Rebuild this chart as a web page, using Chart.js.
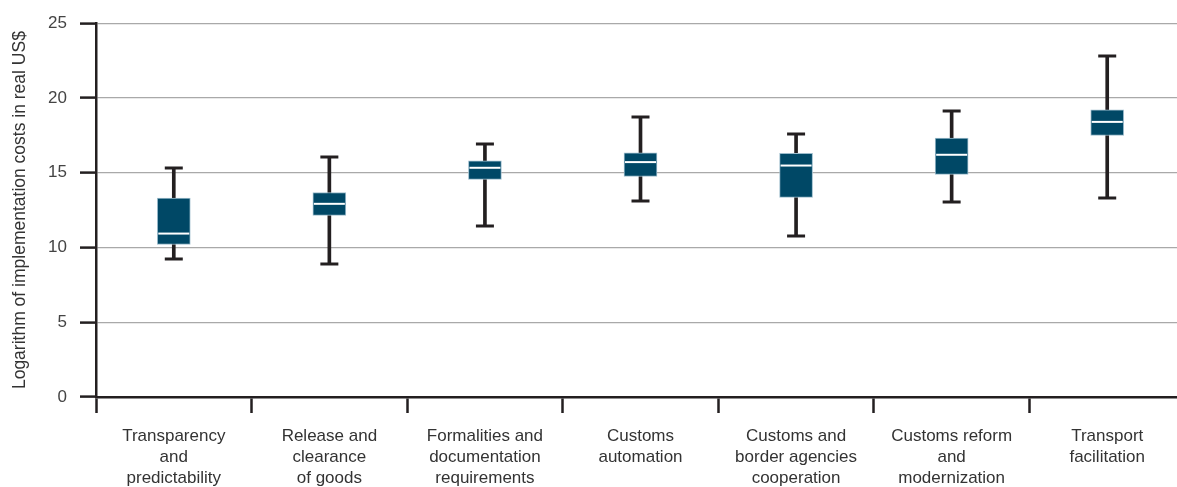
<!DOCTYPE html>
<html>
<head>
<meta charset="utf-8">
<script src="https://cdn.jsdelivr.net/npm/chart.js@4/dist/chart.umd.min.js"></script>
<style>
  html, body { margin: 0; padding: 0; background: #fff; overflow: hidden; }
  canvas { display: block; }
</style>
</head>
<body>
<canvas id="chart" width="1185" height="487"></canvas>
<script>
// Trade facilitation measures (one box per group)
const categories = [
  ["Transparency", "and", "predictability"],
  ["Release and", "clearance", "of goods"],
  ["Formalities and", "documentation", "requirements"],
  ["Customs", "automation"],
  ["Customs and", "border agencies", "cooperation"],
  ["Customs reform", "and", "modernization"],
  ["Transport", "facilitation"]
];

// Box-plot statistics (log of implementation costs, real US$)
const whiskerLow  = [9.22, 8.87, 11.41, 13.08, 10.74, 13.01, 13.28];
const quartile1   = [10.20, 12.15, 14.55, 14.75, 13.35, 14.89, 17.49];
const medians     = [10.93, 12.92, 15.33, 15.71, 15.48, 16.20, 18.40];
const quartile3   = [13.30, 13.68, 15.80, 16.33, 16.29, 17.31, 19.20];
const whiskerHigh = [15.30, 16.04, 16.90, 18.72, 17.58, 19.16, 22.79];

const yTicks = [0, 5, 10, 15, 20, 25];

const INK = '#231f20';
const BOX = '#004866';
const FONT = "'Liberation Sans', Arial, sans-serif";

// Caps on the whiskers and the white median line inside each box
const boxDetails = {
  id: 'boxDetails',
  afterDatasetsDraw(chart) {
    const { ctx } = chart;
    const x = chart.scales.x, y = chart.scales.y;
    const boxMeta = chart.getDatasetMeta(1);
    ctx.save();
    categories.forEach((_, i) => {
      const cx = x.getPixelForValue(i);
      // whisker caps
      ctx.strokeStyle = INK;
      ctx.lineWidth = 3;
      ctx.lineCap = 'butt';
      [whiskerLow[i], whiskerHigh[i]].forEach(v => {
        const py = Math.round(y.getPixelForValue(v));
        ctx.beginPath();
        ctx.moveTo(cx - 9, py);
        ctx.lineTo(cx + 9, py);
        ctx.stroke();
      });
      // median
      const bar = boxMeta.data[i];
      const half = bar.width / 2;
      const my = y.getPixelForValue(medians[i]);
      ctx.strokeStyle = '#ffffff';
      ctx.lineWidth = 2;
      ctx.beginPath();
      ctx.moveTo(cx - half + 1, my);
      ctx.lineTo(cx + half - 1, my);
      ctx.stroke();
    });
    ctx.restore();
  }
};

new Chart(document.getElementById('chart'), {
  type: 'bar',
  data: {
    labels: categories,
    datasets: [
      {
        label: 'Range',
        data: whiskerLow.map((v, i) => [v, whiskerHigh[i]]),
        backgroundColor: INK,
        borderWidth: 0,
        barThickness: 3,
        grouped: false,
        order: 2
      },
      {
        label: 'Interquartile range',
        data: quartile1.map((v, i) => [v, quartile3[i]]),
        backgroundColor: BOX,
        borderColor: '#9cbccc',
        borderWidth: 1,
        borderSkipped: false,
        barThickness: 33,
        grouped: false,
        order: 1
      }
    ]
  },
  options: {
    responsive: false,
    animation: false,
    events: [],
    layout: { padding: { top: 23, right: 0, left: 0, bottom: 0 } },
    plugins: {
      legend: { display: false },
      tooltip: { enabled: false }
    },
    scales: {
      x: {
        offset: true,
        grid: {
          offset: true,
          drawOnChartArea: false,
          drawTicks: true,
          tickLength: 16,
          tickColor: INK,
          tickWidth: 2.5
        },
        border: { display: true, color: INK, width: 2.5 },
        ticks: {
          color: '#333',
          font: { family: FONT, size: 17, lineHeight: 1.24 },
          padding: 13,
          maxRotation: 0,
          autoSkip: false
        },
        afterFit(scale) { scale.height = 90; }
      },
      y: {
        min: yTicks[0],
        max: yTicks[yTicks.length - 1],
        afterBuildTicks(scale) { scale.ticks = yTicks.map(v => ({ value: v })); },
        grid: {
          color: ctx => (ctx.tick && ctx.tick.value === 0) ? 'rgba(0,0,0,0)' : '#a9a9a9',
          lineWidth: 1.2,
          tickLength: 16,
          tickColor: INK,
          tickWidth: 2.5
        },
        border: { display: true, color: INK, width: 2.5 },
        ticks: {
          color: '#444',
          font: { family: FONT, size: 17 },
          padding: 13
        },
        title: {
          display: true,
          text: 'Logarithm of implementation costs in real US$',
          color: '#333',
          font: { family: FONT, size: 17.5 },
          padding: { top: 10, bottom: 0 }
        },
        afterFit(scale) { scale.width = 96; }
      }
    }
  },
  plugins: [boxDetails]
});
</script>
</body>
</html>
